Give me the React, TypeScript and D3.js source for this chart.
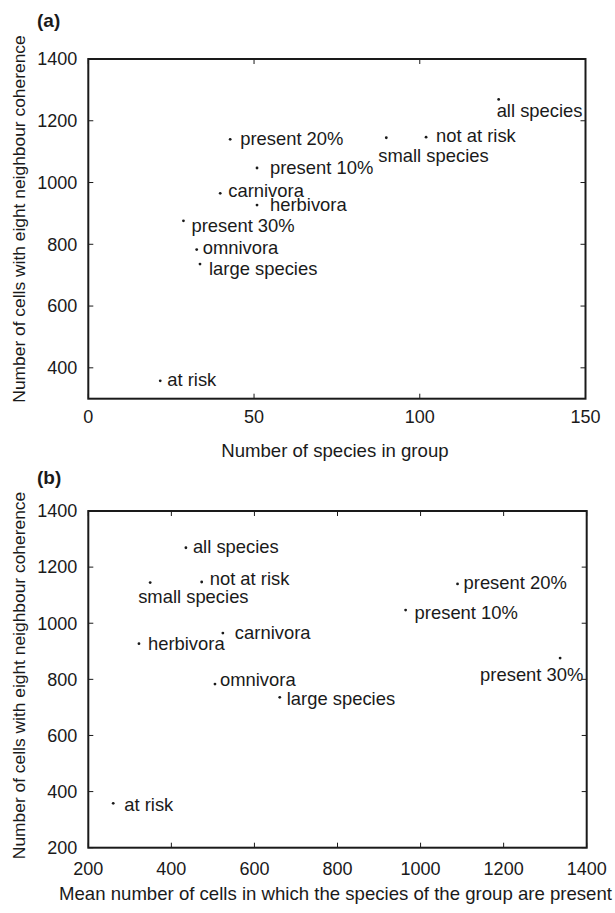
import React from "react";
import * as d3 from "d3";

// ---- data ----
const groups = [
  "all species",
  "not at risk",
  "small species",
  "present 20%",
  "present 10%",
  "carnivora",
  "herbivora",
  "present 30%",
  "omnivora",
  "large species",
  "at risk",
];
const speciesInGroup = [123.8, 101.9, 89.9, 42.8, 50.9, 39.8, 50.9, 28.7, 32.7, 33.7, 21.7];
const cellsCoherence = [1269, 1147, 1145, 1140, 1047, 965, 927, 876, 783, 736, 358];
const meanCellsPresent = [435, 473, 349, 1089, 964, 524, 322, 1336, 505, 661, 260];

const xTicksA = [0, 50, 100, 150];
const yTicksA = [400, 600, 800, 1000, 1200, 1400];
const xTicksB = [200, 400, 600, 800, 1000, 1200, 1400];
const yTicksB = [200, 400, 600, 800, 1000, 1200, 1400];

// label offsets (style)
const labelOffsetA: [number, number][] = [
  [-2, 18], [10, 5], [-8, 24], [10, 6], [13, 6], [8, 4], [13, 6], [8, 11], [6, 4], [9, 11], [7, 5],
];
const labelOffsetB: [number, number][] = [
  [7, 5], [8, 3], [-12, 20], [6, 5], [9, 9], [12, 6], [9, 6], [-80, 23], [5, 2], [7, 8], [11, 8],
];

const FONT = "'Liberation Sans', Arial, Helvetica, sans-serif";
const INK = "#1a1a1a";

type PanelProps = {
  letter: string;
  letterY: number;
  left: number;
  right: number;
  top: number;
  bottom: number;
  xDomain: [number, number];
  yDomain: [number, number];
  xTicks: number[];
  yTicks: number[];
  xs: number[];
  ys: number[];
  offsets: [number, number][];
  xLabelDy: number;
  xTitle: string;
  xTitleY: number;
  yTitleCenter: number;
};

function Panel(p: PanelProps) {
  const x = d3.scaleLinear().domain(p.xDomain).range([p.left, p.right]);
  const y = d3.scaleLinear().domain(p.yDomain).range([p.bottom, p.top]);
  const tl = 5;
  return (
    <g fontFamily={FONT} fill={INK}>
      <text x={37} y={p.letterY} fontSize={19} fontWeight="bold">
        {p.letter}
      </text>
      {p.xTicks.map((t) => (
        <g key={"xt" + t}>
          <line x1={x(t)} x2={x(t)} y1={p.bottom} y2={p.bottom - tl} stroke={INK} strokeWidth={1} />
          <line x1={x(t)} x2={x(t)} y1={p.top} y2={p.top + tl} stroke={INK} strokeWidth={1} />
          <text x={x(t)} y={p.bottom + p.xLabelDy} fontSize={18} textAnchor="middle">
            {t}
          </text>
        </g>
      ))}
      {p.yTicks.map((t) => (
        <g key={"yt" + t}>
          <line x1={p.left} x2={p.left + tl} y1={y(t)} y2={y(t)} stroke={INK} strokeWidth={1} />
          <line x1={p.right} x2={p.right - tl} y1={y(t)} y2={y(t)} stroke={INK} strokeWidth={1} />
          <text x={p.left - 11} y={y(t) + 6.3} fontSize={18} textAnchor="end">
            {t}
          </text>
        </g>
      ))}
      <rect
        x={p.left}
        y={p.top}
        width={p.right - p.left}
        height={p.bottom - p.top}
        fill="none"
        stroke={INK}
        strokeWidth={2}
      />
      {groups.map((g, i) => {
        const cx = x(p.xs[i]);
        const cy = y(p.ys[i]);
        const [dx, dy] = p.offsets[i];
        return (
          <g key={g}>
            <circle cx={cx} cy={cy} r={1.4} fill={INK} />
            <text x={cx + dx} y={cy + dy} fontSize={18.4}>
              {g}
            </text>
          </g>
        );
      })}
      <text x={(p.left + p.right) / 2 - 2} y={p.xTitleY} fontSize={18.6} textAnchor="middle">
        {p.xTitle}
      </text>
      <text
        transform={`translate(24.5,${p.yTitleCenter}) rotate(-90)`}
        fontSize={17.4}
        textAnchor="middle"
      >
        Number of cells with eight neighbour coherence
      </text>
    </g>
  );
}

export default function App() {
  return (
    <svg
      width={615}
      height={913}
      style={{ position: "absolute", left: 0, top: 0, background: "#fff" }}
    >
      <rect width={615} height={913} fill="#fff" />
      <Panel
        letter="(a)"
        letterY={27}
        left={88.3}
        right={585.5}
        top={59}
        bottom={398.7}
        xDomain={[0, 150]}
        yDomain={[300, 1400]}
        xTicks={xTicksA}
        yTicks={yTicksA}
        xs={speciesInGroup}
        ys={cellsCoherence}
        offsets={labelOffsetA}
        xLabelDy={24}
        xTitle="Number of species in group"
        xTitleY={457}
        yTitleCenter={219}
      />
      <Panel
        letter="(b)"
        letterY={484}
        left={88.3}
        right={586.7}
        top={511}
        bottom={847.7}
        xDomain={[200, 1400]}
        yDomain={[200, 1400]}
        xTicks={xTicksB}
        yTicks={yTicksB}
        xs={meanCellsPresent}
        ys={cellsCoherence}
        offsets={labelOffsetB}
        xLabelDy={27}
        xTitle="Mean number of cells in which the species of the group are present"
        xTitleY={900}
        yTitleCenter={675.5}
      />
    </svg>
  );
}
